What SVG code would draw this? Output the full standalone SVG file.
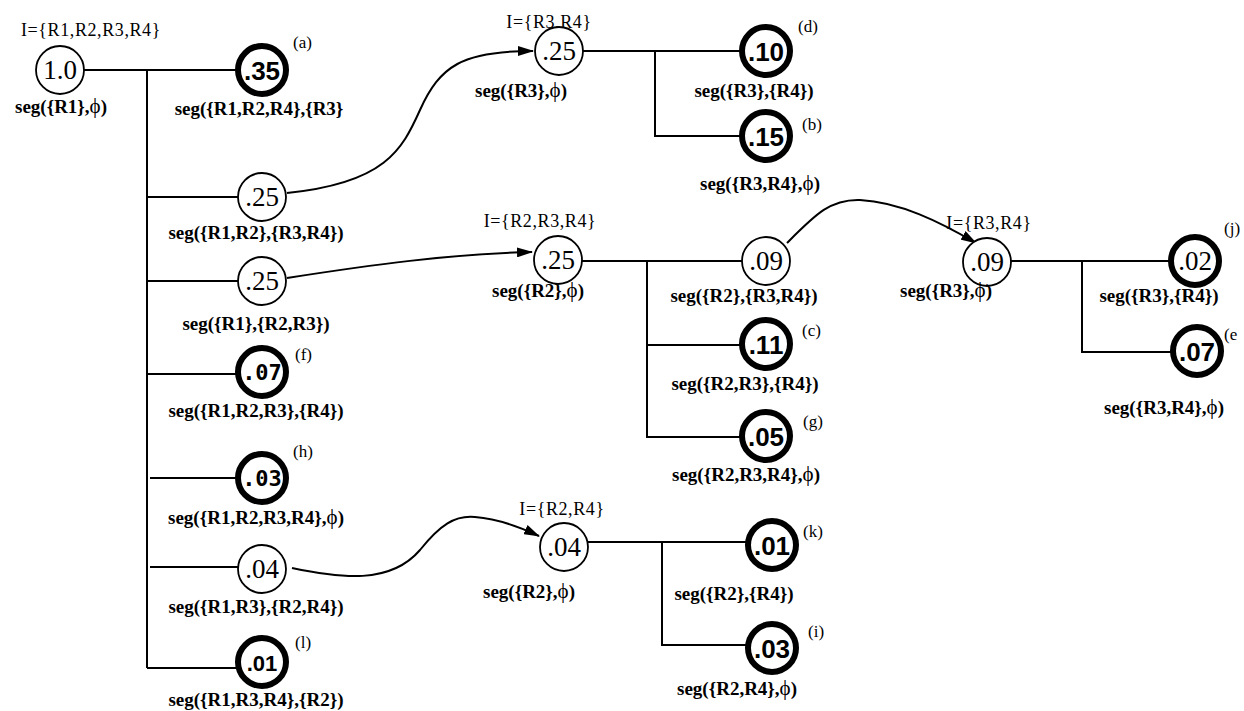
<svg xmlns="http://www.w3.org/2000/svg" width="1244" height="711" viewBox="0 0 1244 711">
<defs>
<marker id="arr" markerWidth="16" markerHeight="10" refX="15" refY="5" orient="auto" markerUnits="userSpaceOnUse">
<path d="M0,0 L16,5 L0,10 z" fill="#000"/>
</marker>
<style>
.thin{fill:#fff;stroke:#000;stroke-width:1.8}
.thick{fill:#fff;stroke:#000;stroke-width:6}
.vr{font-family:"Liberation Serif",serif;font-size:27px;text-anchor:middle}
.vb{font-family:"Liberation Sans",sans-serif;font-weight:bold;font-size:26px;text-anchor:middle}
.vm{font-family:"DejaVu Sans Mono",monospace;font-weight:bold;font-size:22px;text-anchor:middle}
.seg{font-family:"Liberation Serif",serif;font-weight:bold;font-size:19px;text-anchor:middle}
.phi{font-weight:normal;font-size:21px}
.iset{font-family:"Liberation Serif",serif;font-size:18px;text-anchor:middle;letter-spacing:0.6px}
.tag{font-family:"Liberation Serif",serif;font-size:17px}
.ln{fill:none;stroke:#000;stroke-width:2}
</style>
</defs>
<rect width="1244" height="711" fill="#fff"/>
<g id="connectors">
<path class="ln" d="M84,70 H236 M147,70 V668 M147,197 H238 M147,281 H238 M147,374 H236 M150,478 H236 M150,567 H238 M147,668 H237"/>
<path class="ln" d="M583,51 H740 M655,51 V136 H740"/>
<path class="ln" d="M582,261 H742 M647,261 V437 H740 M647,345 H740"/>
<path class="ln" d="M588,542 H747 M662,542 V645 H747"/>
<path class="ln" d="M1011,261 H1170 M1082,261 V352 H1172"/>
<path class="ln" d="M287,193 C385,183 402,150 420,110 C440,66 462,51 533,51" marker-end="url(#arr)"/>
<path class="ln" d="M287,278 C370,265 450,254 532,252" marker-end="url(#arr)"/>
<path class="ln" d="M787,243 C815,215 830,199 860,200 C900,202 940,222 976,243" marker-end="url(#arr)"/>
<path class="ln" d="M292,568 C340,578 390,585 420,550 C440,525 455,515 475,517 C500,519 520,527 539,536" marker-end="url(#arr)"/>
</g>
<g id="n_root">
<text class="iset" x="91" y="36">I={R1,R2,R3,R4}</text>
<circle class="thin" cx="60" cy="70" r="24"/>
<text class="vr" x="60" y="79">1.0</text>
<text class="seg" x="61" y="113">seg({R1},<tspan class="phi">ϕ</tspan>)</text>
</g>
<g id="n_a">
<circle class="thick" cx="262" cy="70" r="24"/>
<text class="vb" x="262" y="80">.35</text>
<text class="tag" x="293" y="48">(a)</text>
<text class="seg" x="259" y="115">seg({R1,R2,R4},{R3}</text>
</g>
<g id="n_r12">
<circle class="thin" cx="262" cy="197" r="24"/>
<text class="vr" x="262" y="206">.25</text>
<text class="seg" x="256" y="239">seg({R1,R2},{R3,R4})</text>
</g>
<g id="n_r1">
<circle class="thin" cx="262" cy="281" r="24"/>
<text class="vr" x="262" y="290">.25</text>
<text class="seg" x="256" y="330">seg({R1},{R2,R3})</text>
</g>
<g id="n_f">
<circle class="thick" cx="262" cy="372" r="24"/>
<text class="vm" x="262" y="380">.07</text>
<text class="tag" x="295" y="360">(f)</text>
<text class="seg" x="256" y="417">seg({R1,R2,R3},{R4})</text>
</g>
<g id="n_h">
<circle class="thick" cx="262" cy="478" r="24"/>
<text class="vm" x="262" y="486">.03</text>
<text class="tag" x="293" y="457">(h)</text>
<text class="seg" x="256" y="524">seg({R1,R2,R3,R4},<tspan class="phi">ϕ</tspan>)</text>
</g>
<g id="n_r13">
<circle class="thin" cx="262" cy="569" r="24"/>
<text class="vr" x="262" y="578">.04</text>
<text class="seg" x="256" y="613">seg({R1,R3},{R2,R4})</text>
</g>
<g id="n_l">
<circle class="thick" cx="262" cy="662" r="24"/>
<text class="vb" x="262" y="671" style="font-size:22px">.01</text>
<text class="tag" x="295" y="648">(l)</text>
<text class="seg" x="256" y="706">seg({R1,R3,R4},{R2})</text>
</g>
<g id="n_r3a">
<text class="iset" x="549" y="28">I={R3,R4}</text>
<circle class="thin" cx="559" cy="51" r="24"/>
<text class="vr" x="559" y="60">.25</text>
<text class="seg" x="521" y="97">seg({R3},<tspan class="phi">ϕ</tspan>)</text>
</g>
<g id="n_d">
<circle class="thick" cx="766" cy="51" r="24"/>
<text class="vb" x="766" y="61">.10</text>
<text class="tag" x="798" y="32">(d)</text>
<text class="seg" x="754" y="97">seg({R3},{R4})</text>
</g>
<g id="n_b">
<circle class="thick" cx="766" cy="136" r="24"/>
<text class="vb" x="766" y="146">.15</text>
<text class="tag" x="802" y="130">(b)</text>
<text class="seg" x="760" y="190">seg({R3,R4},<tspan class="phi">ϕ</tspan>)</text>
</g>
<g id="n_r2a">
<text class="iset" x="540" y="227">I={R2,R3,R4}</text>
<circle class="thin" cx="558" cy="260" r="24"/>
<text class="vr" x="558" y="269">.25</text>
<text class="seg" x="538" y="297">seg({R2},<tspan class="phi">ϕ</tspan>)</text>
</g>
<g id="n_r2r34">
<circle class="thin" cx="766" cy="261" r="24"/>
<text class="vr" x="766" y="270">.09</text>
<text class="seg" x="744" y="302">seg({R2},{R3,R4})</text>
</g>
<g id="n_c">
<circle class="thick" cx="766" cy="344" r="24"/>
<text class="vb" x="766" y="354">.11</text>
<text class="tag" x="802" y="336">(c)</text>
<text class="seg" x="745" y="390">seg({R2,R3},{R4})</text>
</g>
<g id="n_g">
<circle class="thick" cx="766" cy="436" r="24"/>
<text class="vb" x="766" y="446">.05</text>
<text class="tag" x="803" y="427">(g)</text>
<text class="seg" x="746" y="481">seg({R2,R3,R4},<tspan class="phi">ϕ</tspan>)</text>
</g>
<g id="n_r2b">
<text class="iset" x="562" y="515">I={R2,R4}</text>
<circle class="thin" cx="564" cy="547" r="24"/>
<text class="vr" x="564" y="556">.04</text>
<text class="seg" x="529" y="598">seg({R2},<tspan class="phi">ϕ</tspan>)</text>
</g>
<g id="n_k">
<circle class="thick" cx="772" cy="545" r="24"/>
<text class="vb" x="772" y="555">.01</text>
<text class="tag" x="803" y="537">(k)</text>
<text class="seg" x="734" y="600">seg({R2},{R4})</text>
</g>
<g id="n_i">
<circle class="thick" cx="772" cy="648" r="24"/>
<text class="vb" x="772" y="658">.03</text>
<text class="tag" x="808" y="637">(i)</text>
<text class="seg" x="737" y="695">seg({R2,R4},<tspan class="phi">ϕ</tspan>)</text>
</g>
<g id="n_r3b">
<text class="iset" x="989" y="229">I={R3,R4}</text>
<circle class="thin" cx="987" cy="262" r="24"/>
<text class="vr" x="987" y="271">.09</text>
<text class="seg" x="946" y="297">seg({R3},<tspan class="phi">ϕ</tspan>)</text>
</g>
<g id="n_j">
<circle class="thick" cx="1195" cy="261" r="24"/>
<text class="vr" x="1195" y="270">.02</text>
<text class="tag" x="1224" y="234">(j)</text>
<text class="seg" x="1159" y="302">seg({R3},{R4})</text>
</g>
<g id="n_e">
<circle class="thick" cx="1197" cy="351" r="24"/>
<text class="vb" x="1197" y="361">.07</text>
<text class="tag" x="1224" y="340">(e</text>
<text class="seg" x="1164" y="414">seg({R3,R4},<tspan class="phi">ϕ</tspan>)</text>
</g>
</svg>
